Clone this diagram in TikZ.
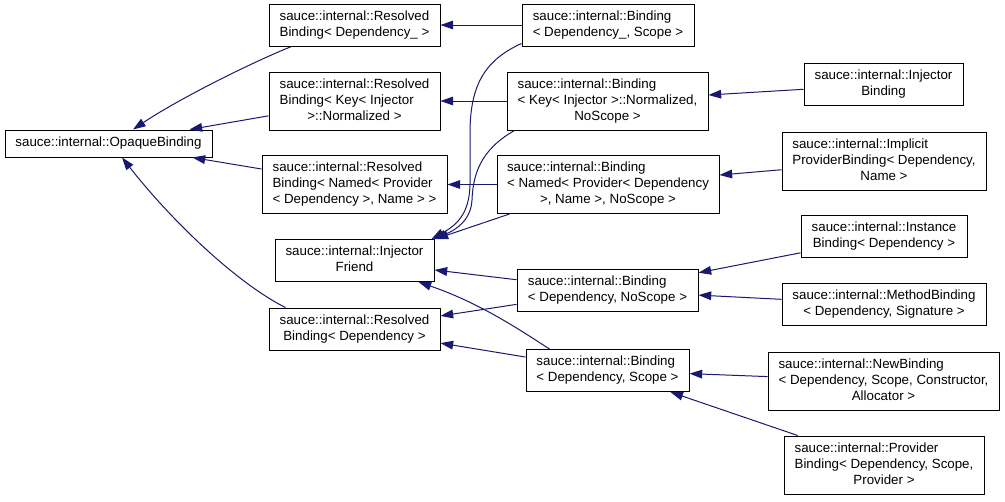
\documentclass[tikz,border=0pt]{standalone}
\usepackage{fontspec}
\setmainfont{Liberation Sans}
\usetikzlibrary{arrows.meta,calc}
\definecolor{navyc}{RGB}{25,25,112}
\newcommand{\lb}[2]{\begin{tabular}{@{}l@{}}#1\\\multicolumn{1}{@{}c@{}}{#2}\end{tabular}}
\tikzset{
  cls/.style 2 args={draw=black, fill=white, line width=0.75pt, rectangle, inner sep=0pt,
    minimum width=#1*0.75pt, minimum height=#2*0.75pt, font=\fontsize{10}{12}\selectfont},
  inh/.style={draw=navyc, line width=0.75pt, -{Triangle[length=9.5pt,width=6.5pt]}}
}
\begin{document}
\begin{tikzpicture}[x=0.75pt,y=-0.75pt]
\useasboundingbox (0,0) rectangle (1005,501);
% nodes
\node[cls={207}{27}] (opaque) at (108.5,143.5) {sauce::internal::OpaqueBinding};
\node[cls={171}{42}] (rdu) at (354.5,25) {\lb{sauce::internal::Resolved}{Binding< Dependency\_ >}};
\node[cls={171}{58}] (rkey) at (354.5,101) {\lb{sauce::internal::Resolved\\Binding< Key< Injector}{>::Normalized >}};
\node[cls={185}{58}] (rnamed) at (354.5,184.5) {\lb{sauce::internal::Resolved\\Binding< Named< Provider}{< Dependency >, Name > >}};
\node[cls={159}{42}] (ifr) at (354.5,260.5) {\lb{sauce::internal::Injector}{Friend}};
\node[cls={171}{42}] (rdep) at (354.5,329) {\lb{sauce::internal::Resolved}{Binding< Dependency >}};
\node[cls={172}{42}] (bdus) at (608,25) {\lb{sauce::internal::Binding}{< Dependency\_, Scope >}};
\node[cls={201}{58}] (bkey) at (607.5,101) {\lb{sauce::internal::Binding\\< Key< Injector >::Normalized,}{NoScope >}};
\node[cls={222}{58}] (bnamed) at (608,184.5) {\lb{sauce::internal::Binding\\< Named< Provider< Dependency}{>, Name >, NoScope >}};
\node[cls={181}{42}] (bnos) at (607.5,290.5) {\lb{sauce::internal::Binding}{< Dependency, NoScope >}};
\node[cls={163}{42}] (bscope) at (607.5,370.5) {\lb{sauce::internal::Binding}{< Dependency, Scope >}};
\node[cls={159}{42}] (injb) at (883.5,84.5) {\lb{sauce::internal::Injector}{Binding}};
\node[cls={204}{58}] (impl) at (884,161) {\lb{sauce::internal::Implicit\\ProviderBinding< Dependency,}{Name >}};
\node[cls={166}{42}] (inst) at (884,236.5) {\lb{sauce::internal::Instance}{Binding< Dependency >}};
\node[cls={204}{42}] (meth) at (884,304.5) {\lb{sauce::internal::MethodBinding}{< Dependency, Signature >}};
\node[cls={231}{58}] (newb) at (883.5,381) {\lb{sauce::internal::NewBinding\\< Dependency, Scope, Constructor,}{Allocator >}};
\node[cls={200}{58}] (provb) at (884,465) {\lb{sauce::internal::Provider\\Binding< Dependency, Scope,}{Provider >}};
% edges to OpaqueBinding
\draw[inh] ($(rdu.south west)+(23,0)$) .. controls (255,61) and (180,98) .. ($(opaque.north)+(24.5,0)$);
\draw[inh] (rkey) -- (opaque);
\draw[inh] (rnamed) -- (opaque);
\draw[inh] ($(rdep.north west)+(17,0)$) .. controls (240,285) and (175,225) .. ($(opaque.south)+(13.5,0)$);
% Binding -> ResolvedBinding
\draw[inh] (bdus) -- (rdu);
\draw[inh] (bkey) -- (rkey);
\draw[inh] (bnamed) -- (rnamed);
\draw[inh] (bnos) -- (rdep);
\draw[inh] (bscope) -- (rdep);
% edges to InjectorFriend
\draw[inh] ($(bdus.south west)+(0,-3)$) .. controls (485,60) and (470,85) .. (470,133) -- (470,183) .. controls (470,215) and (455,226) .. ($(ifr.north east)+(-3,0)$);
\draw[inh] ($(bkey.south west)+(8,0)$) .. controls (480,150) and (473,175) .. (472,200) .. controls (471,220) and (456,230) .. ($(ifr.north east)+(-1,0)$);
\draw[inh] ($(bnamed.south west)+(13,0)$) -- ($(ifr.north east)+(1,0)$);
\draw[inh] (bnos) -- (ifr);
\draw[inh] ($(bscope.north west)+(24,0)$) .. controls (520,330) and (480,303) .. ($(ifr.south east)+(-16,0)$);
% leaves
\draw[inh] (injb) -- (bkey);
\draw[inh] (impl) -- (bnamed);
\draw[inh] (inst) -- (bnos);
\draw[inh] (meth) -- (bnos);
\draw[inh] (newb) -- (bscope);
\draw[inh] (provb) -- (bscope);
\end{tikzpicture}
\end{document}
